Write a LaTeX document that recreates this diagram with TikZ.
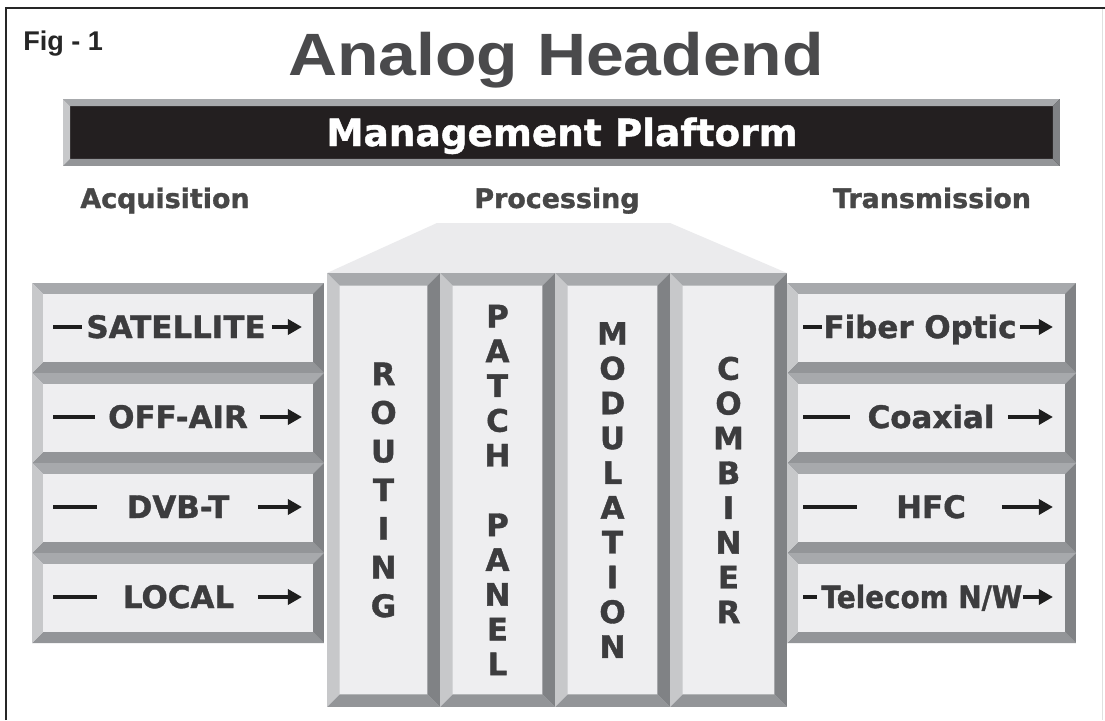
\documentclass[tikz,border=0pt]{standalone}
\usepackage{fontspec}
\setmainfont{DejaVu Sans}[BoldFeatures={FakeBold=1.2}]
\newfontfamily\arialfont{Liberation Sans}
\usetikzlibrary{arrows.meta,calc}
\definecolor{bevT}{HTML}{A7A9AC}
\definecolor{bevL}{HTML}{C7C8CA}
\definecolor{bevR}{HTML}{808285}
\definecolor{bevB}{HTML}{939598}
\definecolor{face}{HTML}{EEEEF0}
\definecolor{txt}{HTML}{3C3C3E}
\definecolor{lbl}{HTML}{474747}
\definecolor{ttl}{HTML}{4A4A4C}
\definecolor{barblack}{HTML}{231F20}
\definecolor{trap}{HTML}{EBEBED}
\definecolor{ink}{HTML}{1E1E1E}
\tikzset{
  bevel/.style={draw=none, fill=face, inner sep=0pt, outer sep=0pt,
    path picture={
      \coordinate (pnw) at (path picture bounding box.north west);
      \coordinate (pne) at (path picture bounding box.north east);
      \coordinate (psw) at (path picture bounding box.south west);
      \coordinate (pse) at (path picture bounding box.south east);
      \fill[bevT] (pnw) -- (pne) -- ([shift={(-#1,-#1)}]pne) -- ([shift={(#1,-#1)}]pnw) -- cycle;
      \fill[bevB] (psw) -- (pse) -- ([shift={(-#1,#1)}]pse) -- ([shift={(#1,#1)}]psw) -- cycle;
      \fill[bevL] (pnw) -- ([shift={(#1,-#1)}]pnw) -- ([shift={(#1,#1)}]psw) -- (psw) -- cycle;
      \fill[bevR] (pne) -- ([shift={(-#1,-#1)}]pne) -- ([shift={(-#1,#1)}]pse) -- (pse) -- cycle;
    }},
  sidebox/.style={bevel=6.2pt, minimum height=1.8cm},
  leftbox/.style={sidebox, minimum width=5.84cm},
  rightbox/.style={sidebox, minimum width=5.78cm},
  colbox/.style={bevel=7.2pt, minimum height=8.68cm, align=center, text=txt,
    font={\bfseries\fontsize{17.6}{#1}\selectfont}},
  word/.style={anchor=base, inner sep=0pt, text=txt, font={\bfseries\fontsize{17.6}{21}\selectfont}},
  section/.style={anchor=base, inner sep=0pt, text=lbl, font={\bfseries\fontsize{15.3}{18}\selectfont}},
  dashln/.style={draw=ink, line width=2pt},
  arrln/.style={draw=ink, line width=2pt, -{Triangle[length=8pt,width=8.5pt]}},
}
\begin{document}
\begin{tikzpicture}[x=0.02cm,y=-0.02cm]
\useasboundingbox (0,0) rectangle (1105,720);
\fill[white] (0,0) rectangle (1105,720);
% frame
\draw[line width=1.2pt, draw=black!85] (6,720) -- (6,8) -- (1105,8);
\draw[line width=0.5pt, draw=black!12] (1102,9) -- (1102,720);

% titles
\node[anchor=base west, inner sep=0pt, text=black!85, font={\arialfont\bfseries\fontsize{15.4}{18}\selectfont}] (fig) at (23,51) {Fig - 1};
\node[anchor=base, inner sep=0pt, text=ttl, font={\arialfont\bfseries\fontsize{34}{40}\selectfont}] (title) at (556,75) {\scalebox{1.137}[1]{Analog Headend}};

% management bar
\node[bevel=4pt, fill=barblack, minimum width=19.94cm, minimum height=1.34cm] (mgmt) at (561.5,132.5) {};
\node[anchor=base, inner sep=0pt, text=white, font={\bfseries\fontsize{21.3}{25}\selectfont}] (mgmttxt) at (562,146) {Management Plaftorm};

% section labels
\node[section] (acq) at (165,208) {Acquisition};
\node[section] (proc) at (557,208) {Processing};
\node[section] (trans) at (932,208) {Transmission};

% processing roof
\fill[trap] (437,223) -- (670,223) -- (787,273) -- (327,273) -- cycle;

% columns
\node[colbox=22pt, minimum width=2.26cm] (routing) at (383.5,490) {R\\O\\U\\T\\I\\N\\G};
\node[colbox=19.8pt, minimum width=2.30cm] (patch) at (497.5,490) {P\\A\\T\\C\\H\\[19.8pt]P\\A\\N\\E\\L};
\node[colbox=19.8pt, minimum width=2.30cm] (modul) at (612.5,490) {M\\O\\D\\U\\L\\A\\T\\I\\O\\N};
\node[colbox=19.8pt, minimum width=2.34cm] (comb) at (728.5,490) {C\\O\\M\\B\\I\\N\\E\\R};

% acquisition boxes
\node[leftbox] (sat) at (178,328) {};
\node[leftbox] (off) at (178,418) {};
\node[leftbox] (dvb) at (178,508) {};
\node[leftbox] (loc) at (178,598) {};
\node[word] (satw) at (176,338) {SATELLITE};
\node[word] (offw) at (178,428) {OFF-AIR};
\node[word] (dvbw) at (178,518) {DVB-T};
\node[word] (locw) at (178.5,608) {LOCAL};
\draw[dashln] ($(sat.west)+(21,-1)$) -- ($(sat.west)+(50,-1)$);
\draw[arrln] ($(sat.east)+(-52,-1)$) -- ($(sat.east)+(-22,-1)$);
\draw[dashln] ($(off.west)+(21,-1)$) -- ($(off.west)+(63,-1)$);
\draw[arrln] ($(off.east)+(-64,-1)$) -- ($(off.east)+(-22,-1)$);
\draw[dashln] ($(dvb.west)+(21,-1)$) -- ($(dvb.west)+(65,-1)$);
\draw[arrln] ($(dvb.east)+(-66,-1)$) -- ($(dvb.east)+(-22,-1)$);
\draw[dashln] ($(loc.west)+(21,-1)$) -- ($(loc.west)+(65,-1)$);
\draw[arrln] ($(loc.east)+(-66,-1)$) -- ($(loc.east)+(-22,-1)$);

% transmission boxes
\node[rightbox] (fib) at (931.5,328) {};
\node[rightbox] (coax) at (931.5,418) {};
\node[rightbox] (hfc) at (931.5,508) {};
\node[rightbox] (tel) at (931.5,598) {};
\node[word] (fibw) at (920,338) {Fiber Optic};
\node[word] (coaxw) at (931,428) {Coaxial};
\node[word] (hfcw) at (931,518) {HFC};
\node[word] (telw) at (922,608) {\scalebox{0.9}[1]{Telecom N/W}};
\draw[dashln] ($(fib.west)+(16,-1)$) -- ($(fib.west)+(35,-1)$);
\draw[arrln] ($(fib.east)+(-56,-1)$) -- ($(fib.east)+(-23,-1)$);
\draw[dashln] ($(coax.west)+(16,-1)$) -- ($(coax.west)+(63,-1)$);
\draw[arrln] ($(coax.east)+(-68,-1)$) -- ($(coax.east)+(-23,-1)$);
\draw[dashln] ($(hfc.west)+(16,-1)$) -- ($(hfc.west)+(70,-1)$);
\draw[arrln] ($(hfc.east)+(-74,-1)$) -- ($(hfc.east)+(-23,-1)$);
\draw[dashln] ($(tel.west)+(16,-1)$) -- ($(tel.west)+(30,-1)$);
\draw[arrln] ($(tel.east)+(-53,-1)$) -- ($(tel.east)+(-23,-1)$);
\end{tikzpicture}
\end{document}
